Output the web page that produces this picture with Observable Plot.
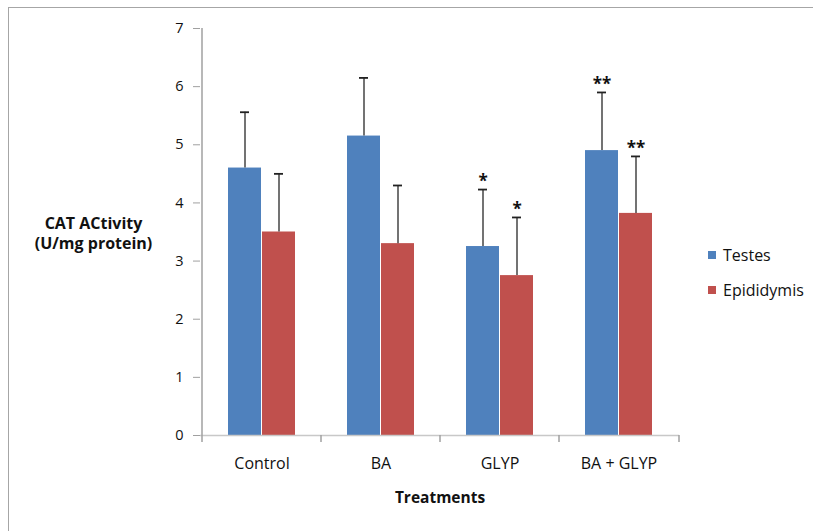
<!DOCTYPE html>
<html>
<head>
<meta charset="utf-8">
<script src="https://cdn.jsdelivr.net/npm/d3@7"></script>
<script src="https://cdn.jsdelivr.net/npm/@observablehq/plot@0.6"></script>
<style>
  html, body { margin: 0; padding: 0; background: #fff; }
  #wrap { position: relative; width: 813px; height: 531px; overflow: hidden; }
  #border { position: absolute; left: 8px; top: 7px; width: 840px; height: 560px; border: 1.5px solid #a6a6a6; }
  #chart { position: absolute; left: 0; top: 0; }
</style>
</head>
<body>
<div id="wrap"><div id="border"></div><div id="chart"></div></div>
<script>
const categories = ["Control", "BA", "GLYP", "BA + GLYP"];
const seriesNames = ["Testes", "Epididymis"];
const testes = [4.6, 5.15, 3.25, 4.9];
const testesErr = [0.96, 1.0, 0.98, 1.0];
const epididymis = [3.5, 3.3, 2.75, 3.82];
const epididymisErr = [1.0, 1.0, 1.0, 0.98];
const testesSig = ["", "", "*", "**"];
const epididymisSig = ["", "", "*", "**"];
const yTicks = [0, 1, 2, 3, 4, 5, 6, 7];
const colors = ["#4f81bd", "#c0504d"];

const rowsT = categories.map((c, i) => ({cat: c, v: testes[i], top: testes[i] + testesErr[i], sig: testesSig[i]}));
const rowsE = categories.map((c, i) => ({cat: c, v: epididymis[i], top: epididymis[i] + epididymisErr[i], sig: epididymisSig[i]}));

const font = "'Open Sans', Lato, sans-serif";
const axisGray = "#a0a0a0";
const errColor = "#444";

const plot = Plot.plot({
  width: 813,
  height: 531,
  marginLeft: 200,
  marginRight: 134,
  marginTop: 28,
  marginBottom: 96,
  style: {fontFamily: font, fontSize: "14px", color: "#111", background: "transparent", overflow: "visible"},
  x: {domain: categories, padding: 0, axis: null},
  y: {domain: [0, 7], axis: null},
  marks: [
    // bars
    Plot.barY(rowsT, {x: "cat", y: "v", fill: colors[0], insetLeft: 26, insetRight: 60}),
    Plot.barY(rowsE, {x: "cat", y: "v", fill: colors[1], insetLeft: 60, insetRight: 26}),
    // error bars (upper only)
    Plot.ruleX(rowsT, {x: "cat", y1: "v", y2: "top", dx: -17, stroke: errColor, strokeWidth: 1.5}),
    Plot.ruleX(rowsE, {x: "cat", y1: "v", y2: "top", dx: 17, stroke: errColor, strokeWidth: 1.5}),
    Plot.tickY(rowsT, {x: "cat", y: "top", insetLeft: 38, insetRight: 72, stroke: "#222", strokeWidth: 1.8}),
    Plot.tickY(rowsE, {x: "cat", y: "top", insetLeft: 72, insetRight: 38, stroke: "#222", strokeWidth: 1.8}),
    // significance marks
    Plot.text(rowsT, {x: "cat", y: "top", text: "sig", dx: -17, dy: -8, fontSize: 17, fontWeight: "bold", fill: "#111"}),
    Plot.text(rowsE, {x: "cat", y: "top", text: "sig", dx: 17, dy: -8, fontSize: 17, fontWeight: "bold", fill: "#111"}),
    // axes
    Plot.ruleY([0], {stroke: "#c8c8c8", strokeWidth: 1.5}),
    Plot.ruleX([categories[0]], {y1: 0, y2: 7, dx: -60, stroke: axisGray, strokeWidth: 1.5}),
    Plot.ruleX(categories, {y1: 0, y2: -0.12, dx: -60, stroke: axisGray, strokeWidth: 1.5}),
    Plot.ruleX([categories[categories.length - 1]], {y1: 0, y2: -0.12, dx: 60, stroke: axisGray, strokeWidth: 1.5}),
    Plot.axisY(yTicks, {tickSize: 7, tickPadding: 10, tickFormat: "d", stroke: axisGray, fill: "#111", fontSize: 14.5, label: null, anchor: "left"}),
    Plot.axisX({tickSize: 0, tickPadding: 22, fontSize: 16, label: null, fill: "#111"}),
    // axis titles
    Plot.text(["Treatments"], {frameAnchor: "bottom", dy: 67, fontWeight: "bold", fontSize: 15.5, fill: "#111"}),
    Plot.text(["CAT ACtivity\n(U/mg protein)"], {frameAnchor: "left", textAnchor: "middle", dx: -107, dy: 1, fontWeight: "bold", fontSize: 16, lineHeight: 1.25, fill: "#111"})
  ]
});

document.getElementById("chart").appendChild(plot);

// legend overlay
const leg = document.createElement("div");
leg.style.cssText = `position:absolute;left:708px;top:245px;font-family:${font};font-size:16px;color:#111;line-height:20px;`;
seriesNames.forEach((name, i) => {
  const row = document.createElement("div");
  row.style.cssText = "display:flex;align-items:center;height:20px;margin-bottom:" + (i === 0 ? "15px" : "0");
  const sw = document.createElement("span");
  sw.style.cssText = `display:inline-block;width:8px;height:8px;background:${colors[i]};margin-right:7px;`;
  const tx = document.createElement("span");
  tx.textContent = name;
  row.appendChild(sw); row.appendChild(tx);
  leg.appendChild(row);
});
document.getElementById("wrap").appendChild(leg);
</script>
</body>
</html>
